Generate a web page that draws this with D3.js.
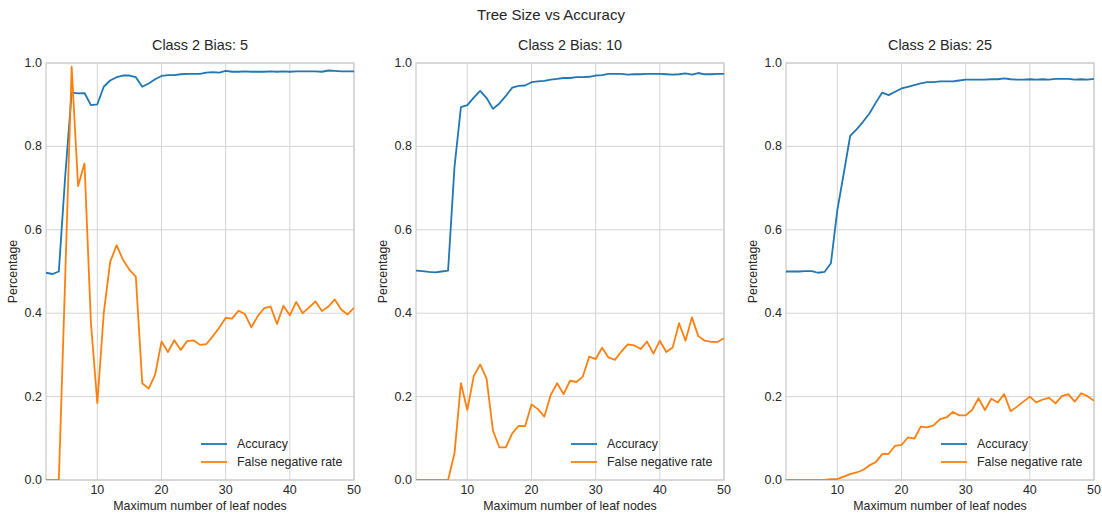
<!DOCTYPE html>
<html lang="en">
<head>
    <meta charset="UTF-8">
    <title>Tree Size vs Accuracy</title>
    <script src="https://cdn.jsdelivr.net/npm/d3@7"></script>
    <style>
        body { margin: 0; background: #fff; }
        text { font-family: "Liberation Sans", Arial, sans-serif; fill: #262626; }
        .grid line { stroke: #d4d4d4; stroke-width: 1; }
        .tick-label { font-size: 12.5px; }
    </style>
</head>
<body>
    <script>
        // x values: maximum number of leaf nodes
        const leafNodes = d3.range(2, 51);
        const panelTitles = ["Class 2 Bias: 5", "Class 2 Bias: 10", "Class 2 Bias: 25"];
        const seriesNames = ["Accuracy", "False negative rate"];
        const xTicks = [10, 20, 30, 40, 50];
        const yTicks = [0, 0.2, 0.4, 0.6, 0.8, 1.0];

        const accBias5 = [0.497, 0.494, 0.500, 0.73, 0.929, 0.927, 0.928, 0.899, 0.901, 0.943,
            0.958, 0.966, 0.970, 0.970, 0.966, 0.943, 0.951, 0.961, 0.969, 0.971,
            0.971, 0.973, 0.974, 0.974, 0.974, 0.977, 0.978, 0.977, 0.981, 0.979,
            0.979, 0.980, 0.979, 0.979, 0.979, 0.980, 0.979, 0.980, 0.979, 0.980,
            0.980, 0.980, 0.980, 0.979, 0.982, 0.981, 0.980, 0.980, 0.980];
        const fnrBias5 = [0, 0, 0, 0.49, 0.991, 0.705, 0.759, 0.377, 0.184, 0.40,
            0.523, 0.563, 0.528, 0.504, 0.488, 0.232, 0.219, 0.252, 0.332, 0.307,
            0.335, 0.312, 0.333, 0.335, 0.324, 0.326, 0.345, 0.365, 0.389, 0.387,
            0.406, 0.398, 0.366, 0.393, 0.412, 0.416, 0.374, 0.418, 0.395, 0.427,
            0.400, 0.414, 0.428, 0.405, 0.416, 0.433, 0.409, 0.397, 0.413];

        const accBias10 = [0.502, 0.501, 0.499, 0.498, 0.500, 0.502, 0.751, 0.894, 0.899, 0.917,
            0.933, 0.916, 0.890, 0.903, 0.921, 0.941, 0.945, 0.946, 0.954, 0.956,
            0.957, 0.960, 0.962, 0.964, 0.964, 0.966, 0.966, 0.967, 0.970, 0.971,
            0.974, 0.974, 0.974, 0.972, 0.973, 0.973, 0.974, 0.974, 0.974, 0.973,
            0.972, 0.973, 0.975, 0.972, 0.976, 0.973, 0.973, 0.974, 0.974];
        const fnrBias10 = [0, 0, 0, 0, 0, 0, 0.064, 0.232, 0.168, 0.249,
            0.277, 0.243, 0.118, 0.078, 0.078, 0.112, 0.130, 0.129, 0.181, 0.170,
            0.152, 0.204, 0.232, 0.206, 0.238, 0.235, 0.248, 0.296, 0.290, 0.317,
            0.294, 0.288, 0.308, 0.325, 0.323, 0.314, 0.332, 0.303, 0.334, 0.307,
            0.318, 0.376, 0.334, 0.390, 0.345, 0.334, 0.331, 0.331, 0.340];

        const accBias25 = [0.500, 0.500, 0.500, 0.501, 0.501, 0.497, 0.499, 0.520, 0.647, 0.735,
            0.825, 0.841, 0.859, 0.879, 0.905, 0.929, 0.923, 0.931, 0.939, 0.943,
            0.947, 0.951, 0.954, 0.954, 0.956, 0.956, 0.956, 0.958, 0.960, 0.960,
            0.960, 0.960, 0.961, 0.961, 0.963, 0.961, 0.960, 0.960, 0.961, 0.960,
            0.961, 0.960, 0.962, 0.962, 0.962, 0.960, 0.961, 0.960, 0.962];
        const fnrBias25 = [0, 0, 0, 0, 0, 0, 0, 0.002, 0.002, 0.008,
            0.014, 0.018, 0.024, 0.035, 0.043, 0.062, 0.063, 0.082, 0.084, 0.102,
            0.099, 0.128, 0.126, 0.131, 0.146, 0.150, 0.163, 0.155, 0.155, 0.168,
            0.196, 0.168, 0.195, 0.186, 0.206, 0.165, 0.176, 0.188, 0.200, 0.186,
            0.193, 0.197, 0.184, 0.201, 0.206, 0.188, 0.208, 0.201, 0.190];

        const panels = [
            [accBias5, fnrBias5],
            [accBias10, fnrBias10],
            [accBias25, fnrBias25]
        ];
        const colors = ["#1f77b4", "#ff7f0e"];

        const width = 1102, height = 514;
        const plotW = 308, plotTop = 63, plotBottom = 480;
        const lefts = [46, 416, 786];

        const svg = d3.select("body").append("svg")
            .attr("width", width)
            .attr("height", height);

        svg.append("text")
            .attr("x", width / 2)
            .attr("y", 20)
            .attr("text-anchor", "middle")
            .style("font-size", "15px")
            .text("Tree Size vs Accuracy");

        const y = d3.scaleLinear().domain([0, 1]).range([plotBottom, plotTop]);

        panels.forEach((series, i) => {
            const left = lefts[i];
            const x = d3.scaleLinear().domain([2, 50]).range([left, left + plotW]);
            const g = svg.append("g");

            // grid
            const grid = g.append("g").attr("class", "grid");
            grid.selectAll(".gx").data(xTicks).enter().append("line")
                .attr("x1", d => x(d)).attr("x2", d => x(d))
                .attr("y1", plotTop).attr("y2", plotBottom);
            grid.selectAll(".gy").data(yTicks).enter().append("line")
                .attr("x1", left).attr("x2", left + plotW)
                .attr("y1", d => y(d)).attr("y2", d => y(d));

            // frame
            g.append("rect")
                .attr("x", left).attr("y", plotTop)
                .attr("width", plotW).attr("height", plotBottom - plotTop)
                .attr("fill", "none")
                .attr("stroke", "#cccccc")
                .attr("stroke-width", 1.25);

            // tick labels
            g.selectAll(".xt").data(xTicks).enter().append("text")
                .attr("class", "tick-label")
                .attr("x", d => x(d))
                .attr("y", plotBottom + 14)
                .attr("text-anchor", "middle")
                .text(d => d);
            g.selectAll(".yt").data(yTicks).enter().append("text")
                .attr("class", "tick-label")
                .attr("x", left - 4)
                .attr("y", d => y(d) + 4)
                .attr("text-anchor", "end")
                .text(d => d3.format(".1f")(d));

            // axis labels and title
            g.append("text")
                .attr("x", left + plotW / 2)
                .attr("y", 510)
                .attr("text-anchor", "middle")
                .style("font-size", "12.4px")
                .text("Maximum number of leaf nodes");
            g.append("text")
                .attr("transform", `translate(${left - 29},${(plotTop + plotBottom) / 2}) rotate(-90)`)
                .attr("text-anchor", "middle")
                .style("font-size", "12.4px")
                .text("Percentage");
            g.append("text")
                .attr("x", left + plotW / 2)
                .attr("y", 50)
                .attr("text-anchor", "middle")
                .style("font-size", "14.4px")
                .text(panelTitles[i]);

            // lines
            const clipId = "clip" + i;
            svg.append("clipPath").attr("id", clipId)
                .append("rect")
                .attr("x", left).attr("y", plotTop - 2)
                .attr("width", plotW).attr("height", plotBottom - plotTop + 2);

            const line = d3.line()
                .x((d, j) => x(leafNodes[j]))
                .y(d => y(d));

            series.forEach((vals, k) => {
                g.append("path")
                    .datum(vals)
                    .attr("clip-path", `url(#${clipId})`)
                    .attr("fill", "none")
                    .attr("stroke", colors[k])
                    .attr("stroke-width", 1.8)
                    .attr("stroke-linejoin", "round")
                    .attr("d", line);
            });

            // legend
            const lg = g.append("g").attr("transform", `translate(${left + 155},444)`);
            seriesNames.forEach((name, k) => {
                lg.append("line")
                    .attr("x1", 0).attr("x2", 26)
                    .attr("y1", k * 18).attr("y2", k * 18)
                    .attr("stroke", colors[k])
                    .attr("stroke-width", 1.8);
                lg.append("text")
                    .attr("x", 36)
                    .attr("y", k * 18 + 4)
                    .style("font-size", "12.4px")
                    .text(name);
            });
        });
    </script>
</body>
</html>
